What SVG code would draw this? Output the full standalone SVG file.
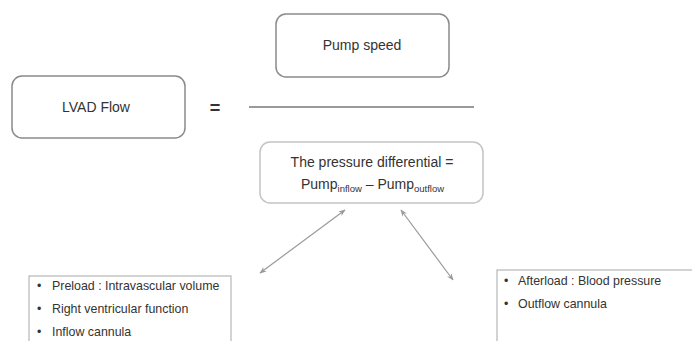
<svg xmlns="http://www.w3.org/2000/svg" width="692" height="341" viewBox="0 0 692 341">
<defs>
<style>
.box{fill:#fff;stroke:#8a8a8a;stroke-width:1.5}
.light{fill:#fff;stroke:#c4c4c4;stroke-width:1.5}
.list{fill:#fff;stroke:#a8a8a8;stroke-width:1}
.t{font-family:"Liberation Sans",Arial,sans-serif;fill:#333}
.c{text-anchor:middle;font-size:14px}
.b{font-size:12.4px}
.conn{stroke:#9a9a9a;stroke-width:1.2;fill:none}
</style>
<marker id="ah" viewBox="0 0 10 10" refX="9" refY="5" markerWidth="7" markerHeight="7" orient="auto-start-reverse" markerUnits="userSpaceOnUse">
<path d="M0,1 L10,5 L0,9 L3,5 Z" fill="#9a9a9a"/>
</marker>
</defs>
<rect width="692" height="341" fill="#fff"/>
<g id="lvad-flow">
<rect class="box" x="12" y="76" width="173" height="62" rx="10"/>
<text class="t c" x="96" y="112">LVAD Flow</text>
</g>
<g id="equals">
<text class="t" x="215" y="114" font-size="18" font-weight="bold" text-anchor="middle">=</text>
</g>
<g id="pump-speed">
<rect class="box" x="276" y="14" width="173" height="63" rx="10"/>
<text class="t c" x="362" y="50">Pump speed</text>
</g>
<g id="fraction-line">
<line x1="249" y1="107" x2="474" y2="107" stroke="#9a9a9a" stroke-width="2"/>
</g>
<g id="pressure-differential">
<rect class="light" x="260" y="142" width="223" height="61" rx="10"/>
<text class="t c" x="372" y="167">The pressure differential =</text>
<text class="t" x="301" y="189" font-size="14">Pump<tspan font-size="9.5" dy="3">inflow</tspan><tspan dy="-3"> – Pump</tspan><tspan font-size="9.5" dy="3">outflow</tspan></text>
</g>
<g id="preload-list">
<rect class="list" x="29" y="276" width="202" height="80"/>
<text class="t b" x="37" y="290">•</text>
<text class="t b" x="52" y="290">Preload : Intravascular volume</text>
<text class="t b" x="37" y="313">•</text>
<text class="t b" x="52" y="313">Right ventricular function</text>
<text class="t b" x="37" y="336">•</text>
<text class="t b" x="52" y="336">Inflow cannula</text>
</g>
<g id="afterload-list">
<rect class="list" x="497" y="270" width="200" height="80"/>
<text class="t b" x="504" y="285">•</text>
<text class="t b" x="518" y="285">Afterload : Blood pressure</text>
<text class="t b" x="504" y="308">•</text>
<text class="t b" x="518" y="308">Outflow cannula</text>
</g>
<g id="connectors">
<line class="conn" x1="345" y1="210" x2="260" y2="273" marker-start="url(#ah)" marker-end="url(#ah)"/>
<line class="conn" x1="401" y1="210" x2="453" y2="280" marker-start="url(#ah)" marker-end="url(#ah)"/>
</g>
</svg>
